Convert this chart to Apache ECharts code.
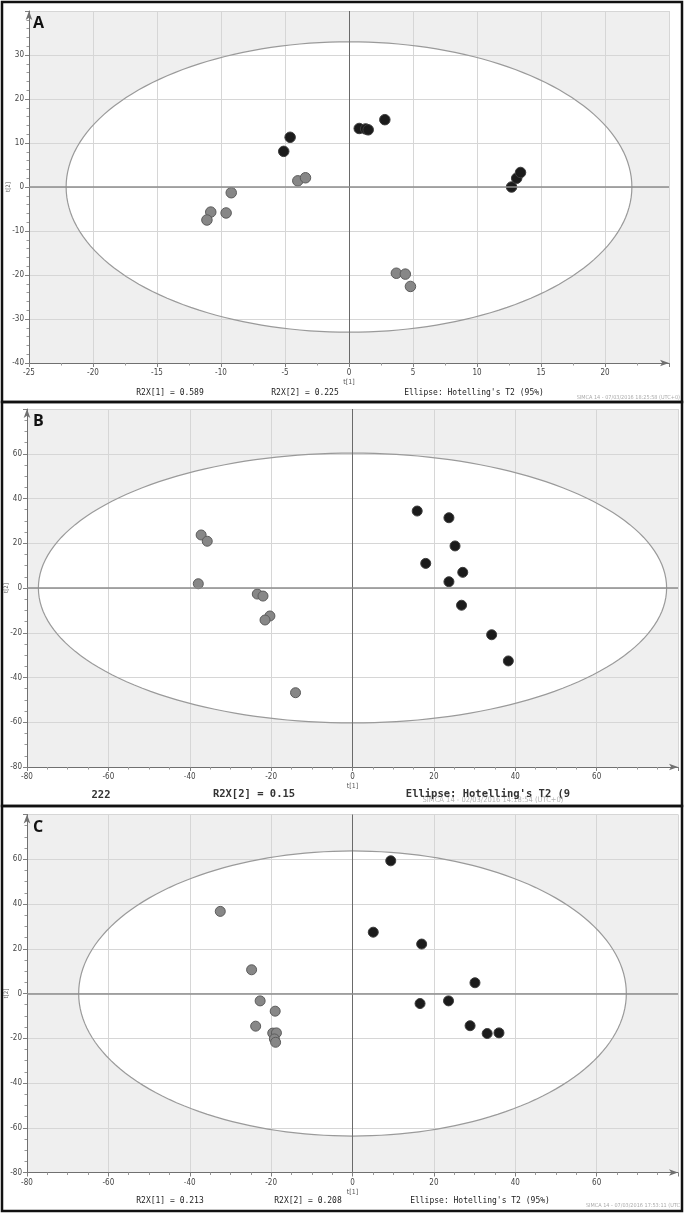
<!DOCTYPE html>
<html><head><meta charset="utf-8">
<script src="https://cdn.jsdelivr.net/npm/echarts@6/dist/echarts.min.js"></script>
<style>html,body{margin:0;padding:0;background:#fff}#c{width:685px;height:1215px}</style>
</head><body><div id="c"></div>
<script>
// ---- Data ----
// Panel A
const aDarkX = [-4.6, -5.1, 0.8, 1.3, 1.5, 2.8, 12.7, 13.1, 13.4];
const aDarkY = [11.3, 8.1, 13.3, 13.2, 13.0, 15.3, 0.0, 2.0, 3.3];
const aGrayX = [-4.0, -3.4, -9.2, -10.8, -11.1, -9.6, 3.7, 4.4, 4.8];
const aGrayY = [1.4, 2.1, -1.3, -5.7, -7.5, -5.9, -19.6, -19.8, -22.6];
// Panel B
const bDarkX = [15.9, 23.7, 25.2, 18.0, 27.1, 23.7, 26.8, 34.2, 38.3];
const bDarkY = [34.4, 31.4, 18.8, 11.0, 7.0, 2.8, -7.7, -20.9, -32.6];
const bGrayX = [-37.2, -35.7, -37.9, -23.4, -22.0, -20.3, -21.5, -14.0];
const bGrayY = [23.7, 20.9, 1.9, -2.7, -3.6, -12.5, -14.3, -46.8];
// Panel C
const cDarkX = [9.4, 5.1, 17.0, 30.1, 16.6, 23.6, 28.9, 33.1, 36.0];
const cDarkY = [59.3, 27.4, 22.1, 4.8, -4.5, -3.3, -14.4, -17.9, -17.6];
const cGrayX = [-32.5, -24.8, -22.7, -19.0, -23.8, -19.6, -18.7, -19.2, -18.9];
const cGrayY = [36.7, 10.6, -3.3, -7.9, -14.6, -17.7, -17.6, -20.3, -21.8];
// Hotelling's T2 (95%) ellipse semi-axes [t1, t2]
const ellipseA = [22.1, 33.0];
const ellipseB = [77.2, 60.3];
const ellipseC = [67.3, 63.7];
// Axis ranges [min, max, interval]
const xRangeA = [-25, 25, 5], yRangeA = [-40, 40, 10];
const xRangeB = [-80, 80, 20], yRangeB = [-80, 80, 20];
const xRangeC = [-80, 80, 20], yRangeC = [-80, 80, 20];
// Footer texts
const panelLabels = ['A', 'B', 'C'];
const footA = ['R2X[1] = 0.589', 'R2X[2] = 0.225', "Ellipse: Hotelling's T2 (95%)", 'SIMCA 14 - 07/03/2016 18:25:58 (UTC+0)'];
const footB = ['222', 'R2X[2] = 0.15', "Ellipse: Hotelling's T2 (9", 'SIMCA 14 - 02/03/2016 14:18:54 (UTC+0)'];
const footC = ['R2X[1] = 0.213', 'R2X[2] = 0.208', "Ellipse: Hotelling's T2 (95%)", 'SIMCA 14 - 07/03/2016 17:53:11 (UTC'];

const FONT = "'DejaVu Sans Condensed','Liberation Sans Narrow','Liberation Sans',sans-serif";
const MONO = "'DejaVu Sans Mono','Liberation Mono',monospace";

const zip = (xs, ys) => xs.map((x, i) => [x, ys[i]]);

const grids = [
  {left: 29, top: 11, width: 640, height: 352},
  {left: 27, top: 409, width: 651, height: 358},
  {left: 27, top: 814.5, width: 651, height: 358}
].map(g => Object.assign(g, {show: true, backgroundColor: '#efefef', borderWidth: 0, z: -10,
  containLabel: false, outerBoundsMode: 'none'}));

function xAx(i, r, minorN) {
  return {
    type: 'value', gridIndex: i, min: r[0], max: r[1], interval: r[2], position: 'bottom',
    name: 't[1]', nameLocation: 'middle', nameGap: 16, nameMoveOverlap: false,
    nameTextStyle: {fontSize: 7, color: '#555', fontFamily: FONT},
    axisLine: {show: true, onZero: false, symbol: ['none', 'arrow'], symbolSize: [5, 9], lineStyle: {color: '#707070', width: 1}},
    axisTick: {show: true, length: 4, lineStyle: {color: '#808080'}},
    minorTick: {show: true, splitNumber: minorN, length: 2.5, lineStyle: {color: '#999'}},
    axisLabel: {fontSize: 8, color: '#444', margin: 6, showMaxLabel: false, fontFamily: FONT},
    splitLine: {show: true, lineStyle: {color: '#d6d6d6', width: 1}},
    minorSplitLine: {show: false}
  };
}
function yAx(i, r, minorN) {
  return {
    type: 'value', gridIndex: i, min: r[0], max: r[1], interval: r[2], position: 'left',
    name: 't[2]', nameLocation: 'middle', nameGap: 18, nameRotate: 90, nameMoveOverlap: false,
    nameTextStyle: {fontSize: 6, color: '#555', fontFamily: FONT},
    axisLine: {show: true, onZero: false, symbol: ['none', 'arrow'], symbolSize: [5, 9], lineStyle: {color: '#707070', width: 1}},
    axisTick: {show: true, length: 4, lineStyle: {color: '#808080'}},
    minorTick: {show: true, splitNumber: minorN, length: 2.5, lineStyle: {color: '#999'}},
    axisLabel: {fontSize: 8, color: '#444', margin: 5, showMaxLabel: false, fontFamily: FONT},
    splitLine: {show: true, lineStyle: {color: '#d6d6d6', width: 1}},
    minorSplitLine: {show: false}
  };
}

function ellipseSeries(i, ab, fillMode) {
  return {
    type: 'custom', xAxisIndex: i, yAxisIndex: i, z: fillMode ? -5 : 1, silent: true,
    data: [ab],
    renderItem: function (params, api) {
      const a = api.value(0), b = api.value(1);
      const pts = [];
      const N = 180;
      for (let k = 0; k < N; k++) {
        const t = 2 * Math.PI * k / N;
        pts.push(api.coord([a * Math.cos(t), b * Math.sin(t)]));
      }
      return {
        type: 'polygon', shape: {points: pts},
        style: fillMode ? {fill: '#ffffff', stroke: null} : {fill: null, stroke: '#9a9a9a', lineWidth: 1.2}
      };
    }
  };
}
function zeroLines(i) {
  return {
    type: 'line', xAxisIndex: i, yAxisIndex: i, data: [], z: 1, silent: true,
    markLine: {
      silent: true, symbol: ['none', 'none'], label: {show: false}, animation: false,
      data: [
        {xAxis: 0, lineStyle: {color: '#6a6a6a', width: 1, type: 'solid'}},
        {yAxis: 0, lineStyle: {color: '#8c8c8c', width: 1.6, type: 'solid'}}
      ]
    }
  };
}
function pts(i, data, dark, size) {
  return {
    type: 'scatter', xAxisIndex: i, yAxisIndex: i, z: 3, symbol: 'circle', symbolSize: size,
    data: data,
    itemStyle: dark ? {color: '#1b1b1b', borderColor: '#3c3c3c', borderWidth: 1, opacity: 1}
                    : {color: '#878787', borderColor: '#5c5c5c', borderWidth: 1, opacity: 1}
  };
}

function txt(x, y, s, font, color, align, z) {
  return {type: 'text', x: x, y: y, z: z || 50, silent: true,
    style: {text: s, font: font, fill: color, align: align || 'center', verticalAlign: 'middle'}};
}

const graphic = [
  {type: 'rect', z: 100, silent: true, shape: {x: 2, y: 2, width: 680, height: 400}, style: {fill: null, stroke: '#111', lineWidth: 2.5}},
  {type: 'rect', z: 100, silent: true, shape: {x: 2, y: 402, width: 680, height: 404}, style: {fill: null, stroke: '#111', lineWidth: 2.5}},
  {type: 'rect', z: 100, silent: true, shape: {x: 2, y: 806, width: 680, height: 405}, style: {fill: null, stroke: '#111', lineWidth: 2.5}},
  txt(33, 23, panelLabels[0], "bold 16px 'Open Sans','Liberation Sans',sans-serif", '#111', 'left'),
  txt(33, 421, panelLabels[1], "bold 16px 'Open Sans','Liberation Sans',sans-serif", '#111', 'left'),
  txt(33, 827, panelLabels[2], "bold 16px 'Open Sans','Liberation Sans',sans-serif", '#111', 'left'),
  // Panel A footer
  txt(170, 393, footA[0], "8px " + MONO, '#222'),
  txt(305, 393, footA[1], "8px " + MONO, '#222'),
  txt(474, 393, footA[2], "8px " + MONO, '#222'),
  txt(680, 397.5, footA[3], "5.5px " + FONT, '#aaa', 'right'),
  // Panel B footer
  txt(493, 800, footB[3], "7.5px " + FONT, '#b4b4b4', 'center', 40),
  txt(101, 795, footB[0], "bold 10.5px " + MONO, '#333'),
  txt(254, 794, footB[1], "bold 10.5px " + MONO, '#333'),
  txt(488, 794, footB[2], "bold 10.5px " + MONO, '#333'),
  // Panel C footer
  txt(170, 1201, footC[0], "8px " + MONO, '#222'),
  txt(308, 1201, footC[1], "8px " + MONO, '#222'),
  txt(480, 1201, footC[2], "8px " + MONO, '#222'),
  txt(680, 1206, footC[3], "5.5px " + FONT, '#aaa', 'right')
];

const option = {
  animation: false,
  backgroundColor: '#ffffff',
  grid: grids,
  xAxis: [xAx(0, xRangeA, 2), xAx(1, xRangeB, 4), xAx(2, xRangeC, 4)],
  yAxis: [yAx(0, yRangeA, 5), yAx(1, yRangeB, 4), yAx(2, yRangeC, 4)],
  graphic: graphic,
  series: [
    ellipseSeries(0, ellipseA, true), ellipseSeries(0, ellipseA, false), zeroLines(0),
    pts(0, zip(aGrayX, aGrayY), false, 10.5), pts(0, zip(aDarkX, aDarkY), true, 10.5),
    ellipseSeries(1, ellipseB, true), ellipseSeries(1, ellipseB, false), zeroLines(1),
    pts(1, zip(bGrayX, bGrayY), false, 10), pts(1, zip(bDarkX, bDarkY), true, 10),
    ellipseSeries(2, ellipseC, true), ellipseSeries(2, ellipseC, false), zeroLines(2),
    pts(2, zip(cGrayX, cGrayY), false, 10), pts(2, zip(cDarkX, cDarkY), true, 10)
  ]
};

const chart = echarts.init(document.getElementById('c'), null, {renderer: 'canvas'});
chart.setOption(option);
</script>
</body></html>
